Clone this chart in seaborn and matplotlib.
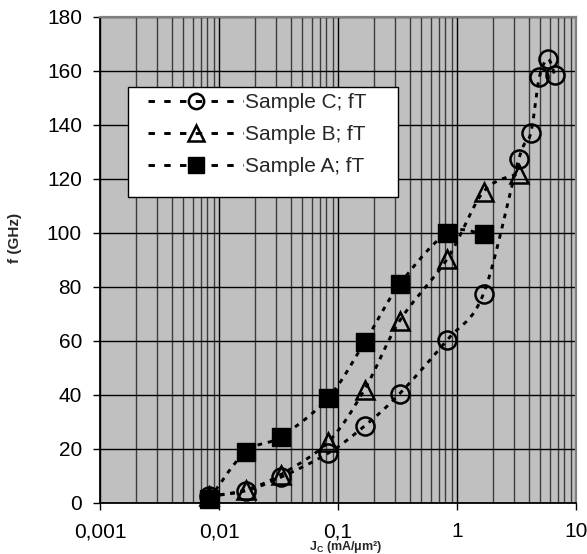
import numpy as np
import matplotlib
matplotlib.use("Agg")
import matplotlib.pyplot as plt
from matplotlib.lines import Line2D
from matplotlib.patches import Rectangle
from matplotlib.ticker import LogLocator, NullFormatter, FixedLocator
import seaborn as sns

# Cutoff frequency fT (GHz) versus collector current density Jc (mA/um^2)
jc_a = [0.0083, 0.0167, 0.033, 0.083, 0.167, 0.33, 0.83, 1.67]
ft_a = [1.5, 19.0, 24.5, 39.0, 59.5, 81.0, 100.0, 99.5]

jc_b = [0.0083, 0.0167, 0.033, 0.083, 0.167, 0.33, 0.83, 1.67, 3.3]
ft_b = [2.5, 4.8, 10.5, 22.7, 42.0, 67.5, 90.5, 115.3, 122.0]

jc_c = [0.0083, 0.0167, 0.033, 0.083, 0.167, 0.33, 0.83, 1.67, 3.3,
        4.16, 4.92, 5.82, 6.62]
ft_c = [2.5, 4.5, 9.5, 18.5, 28.5, 40.5, 60.5, 77.5, 127.3,
        136.9, 157.7, 164.4, 158.5]

series_labels = ["Sample C; fT", "Sample B; fT", "Sample A; fT"]
x_ticks = [0.001, 0.01, 0.1, 1, 10]
x_tick_labels = ["0,001", "0,01", "0,1", "1", "10"]
y_ticks = list(range(0, 181, 20))

sns.set_theme(style="ticks")
plt.rcParams["font.family"] = ["Liberation Sans", "DejaVu Sans"]
plt.rcParams["mathtext.default"] = "regular"

W, H = 587, 554
fig = plt.figure(figsize=(W / 100, H / 100), dpi=100)
fig.patch.set_facecolor("white")
ax = fig.add_axes([100 / W, 51 / H, 476 / W, 486 / H])
ax.set_facecolor("#c0c0c0")

ax.set_xscale("log")
ax.set_xlim(0.001, 10)
ax.set_ylim(0, 180)

# grid: black decades and y-steps, dark grey minor decades
ax.xaxis.set_major_locator(FixedLocator(x_ticks))
ax.set_xticklabels(x_tick_labels)
ax.xaxis.set_minor_locator(LogLocator(base=10, subs=np.arange(2, 10)))
ax.xaxis.set_minor_formatter(NullFormatter())
ax.set_yticks(y_ticks)
ax.set_axisbelow(True)
ax.grid(which="major", axis="both", color="black", lw=1.0)
ax.grid(which="minor", axis="x", color="#3c3c3c", lw=1.0)

ax.tick_params(axis="both", which="major", direction="out", length=5,
               width=1, color="black", labelsize=15, labelcolor="black")
ax.tick_params(axis="x", which="major", pad=9)
ax.tick_params(axis="y", which="major", pad=8)
ax.tick_params(axis="x", which="minor", length=0)

for side in ("left", "bottom"):
    ax.spines[side].set_color("black")
    ax.spines[side].set_linewidth(1.3)
for side in ("top", "right"):
    ax.spines[side].set_color("#808080")
    ax.spines[side].set_linewidth(1.6)


def smooth_curve(axes, xs, ys, n=30):
    """Smoothed path through the points (cubic Bezier, Catmull-Rom tangents)."""
    pts = axes.transData.transform(np.column_stack([xs, ys]))
    P = np.vstack([pts[0], pts, pts[-1]])
    t = np.linspace(0, 1, n)[:, None]
    parts = []
    for i in range(1, len(P) - 2):
        p0, p1, p2, p3 = P[i - 1], P[i], P[i + 1], P[i + 2]
        c1 = p1 + (p2 - p0) / 6.0
        c2 = p2 - (p3 - p1) / 6.0
        seg = ((1 - t) ** 3) * p1 + 3 * (1 - t) ** 2 * t * c1 \
            + 3 * (1 - t) * t ** 2 * c2 + t ** 3 * p2
        parts.append(seg if i == 1 else seg[1:])
    curve = axes.transData.inverted().transform(np.vstack(parts))
    return curve[:, 0], curve[:, 1]


line_kw = dict(color="black", lw=2.1, linestyle=(0, (1.6, 2.0)),
               dash_capstyle="butt")
legend_line_kw = dict(color="black", lw=2.1, linestyle=(0, (2.2, 3.2)),
                      dash_capstyle="butt")
styles = [
    dict(marker="o", markersize=13, markerfacecolor="none",
         markeredgecolor="black", markeredgewidth=1.8),
    dict(marker="^", markersize=13, markerfacecolor="none",
         markeredgecolor="black", markeredgewidth=1.8),
    dict(marker="s", markersize=13, markerfacecolor="black",
         markeredgecolor="black", markeredgewidth=1.0),
]
legend_styles = [dict(st, markersize=11) for st in styles]
series = [(jc_c, ft_c), (jc_b, ft_b), (jc_a, ft_a)]

for (xs, ys), st in zip(series, styles):
    cx, cy = smooth_curve(ax, xs, ys)
    sns.lineplot(x=cx, y=cy, sort=False, estimator=None, legend=False,
                 ax=ax, zorder=3, **line_kw)
    sns.lineplot(x=xs, y=ys, sort=False, estimator=None, legend=False,
                 ax=ax, linestyle="none", color="black", zorder=3.5,
                 clip_on=False, **st)

# legend box
ax.add_patch(Rectangle((28 / 476, (503 - 197) / 486), 270 / 476, 110 / 486,
                       transform=ax.transAxes, facecolor="white",
                       edgecolor="black", lw=1.0, zorder=4))
handles = [Line2D([], [], **legend_line_kw, **st) for st in legend_styles]
leg = ax.legend(handles, series_labels, loc="upper left",
                bbox_to_anchor=(48 / 476, (503 - 93.4) / 486),
                frameon=False, fontsize=15, handlelength=4.57,
                handletextpad=0.1, labelspacing=0.62, borderpad=0,
                borderaxespad=0)
leg.set_zorder(5)

ax.set_xlabel("")
ax.set_ylabel("")
fig.text(15 / W, 1 - 238 / H, "f (GHz)", rotation=90, ha="center",
         va="center", fontsize=11, fontweight="bold")
fig.text(346 / W, 1 - 547 / H, "J$_{C}$ (mA/μm²)", ha="center",
         va="center", fontsize=9, fontweight="bold")

fig.savefig("out.png", dpi=100)
